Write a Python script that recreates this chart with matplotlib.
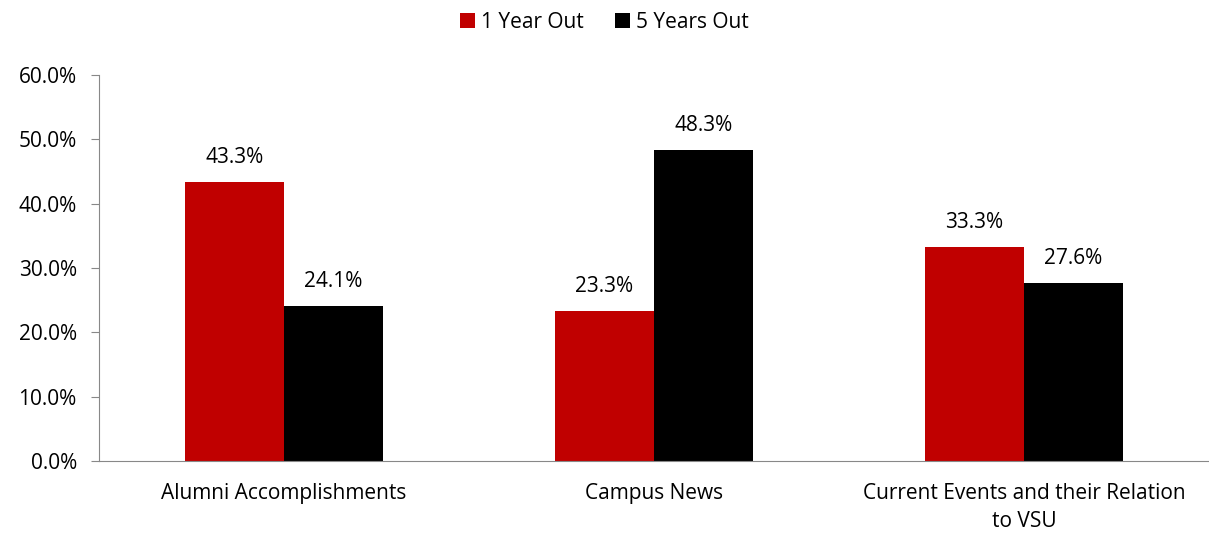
import matplotlib
matplotlib.use("Agg")
import matplotlib.pyplot as plt
import numpy as np

categories = ["Alumni Accomplishments", "Campus News", "Current Events and their Relation\nto VSU"]
series_names = ["1 Year Out", "5 Years Out"]
one_year = [43.3, 23.3, 33.3]
five_years = [24.1, 48.3, 27.6]
yticks = [0, 10, 20, 30, 40, 50, 60]

plt.rcParams['font.family'] = ['Open Sans', 'DejaVu Sans']
FS = 15
fig = plt.figure(figsize=(12.09, 5.36), dpi=100)
ax = fig.add_axes([0.0819, 0.140, 0.9181, 0.720])

x = np.arange(len(categories))
w = 0.268
b1 = ax.bar(x - w/2, one_year, w, color="#C00000", label=series_names[0])
b2 = ax.bar(x + w/2, five_years, w, color="#000000", label=series_names[1])
for bars, vals in ((b1, one_year), (b2, five_years)):
    for r, v in zip(bars, vals):
        ax.text(r.get_x() + r.get_width()/2, v + 2.2, f"{v:.1f}%", ha="center", va="bottom", fontsize=FS)

ax.set_xlim(-0.5, 2.5)
ax.set_ylim(0, 60)
ax.set_yticks(yticks)
ax.set_yticklabels([f"{t:.1f}%" for t in yticks], fontsize=FS)
ax.set_xticks(x)
ax.set_xticklabels(categories, fontsize=FS, linespacing=1.45)
ax.tick_params(axis="x", length=0, pad=16)
ax.tick_params(axis="y", length=6, color="#888888", pad=10)
for s in ("top", "right"):
    ax.spines[s].set_visible(False)
for s in ("left", "bottom"):
    ax.spines[s].set_color("#888888")

fig.legend(handles=[b1, b2], labels=series_names, loc="center", bbox_to_anchor=(0.5, 0.958),
           ncol=2, frameon=False, fontsize=FS, handlelength=0.7, handleheight=0.7,
           handletextpad=0.3, columnspacing=1.5)

fig.savefig("out.png", dpi=100)
